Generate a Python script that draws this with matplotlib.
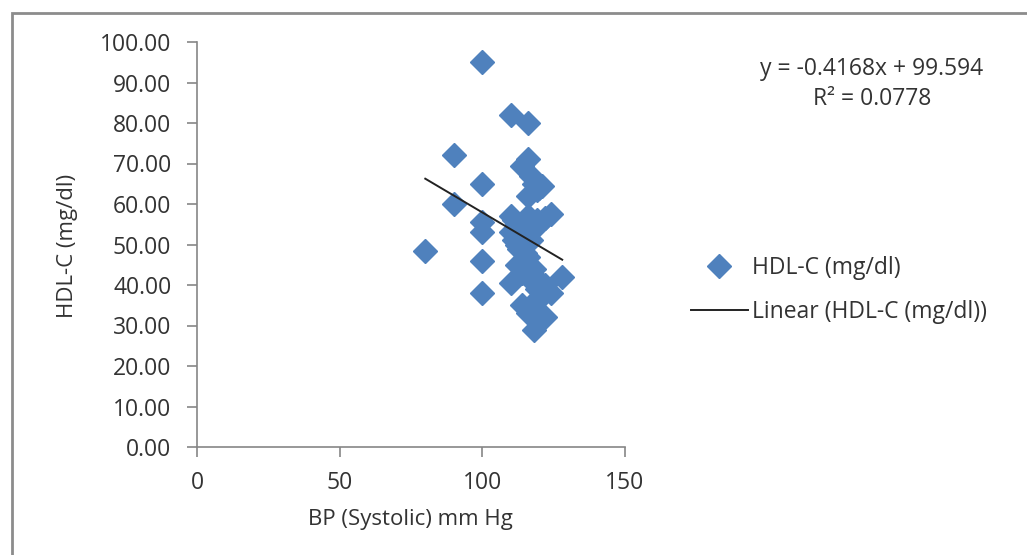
import matplotlib
matplotlib.use("Agg")
import matplotlib.pyplot as plt
from matplotlib.patches import Rectangle
import numpy as np

plt.rcParams['font.family'] = ['Open Sans', 'DejaVu Sans']

bp = [100, 110, 116, 90, 100,
      116, 114, 117, 118, 120, 116, 119, 121,
      90, 100, 100, 80, 100, 100,
      110, 111, 112, 113, 114, 115, 116, 117, 118, 119, 120, 122, 124,
      110, 111, 112, 113, 114, 115, 116, 117,
      110, 112, 114, 116, 118, 120, 119, 121, 122, 124, 128,
      114, 116, 118, 120, 122, 117, 119]
hdl = [95, 82, 80, 72, 65,
       71, 69.5, 67, 65, 64, 62, 63.5, 64.5,
       60, 55.5, 53, 48.4, 46, 38,
       57, 56, 55, 53.5, 52.5, 56, 57, 55.5, 54, 56, 55, 56.5, 57.5,
       53, 51, 50, 49, 50.5, 48, 47, 51,
       40.5, 45, 43, 42, 44, 41, 39, 37.5, 40, 38, 42,
       35, 33, 29, 37, 32, 34, 36]

slope, intercept = -0.4168, 99.594
fit_x = [80, 128]
eq_text = "y = -0.4168x + 99.594\nR² = 0.0778"

W, H = 1027, 555
fig = plt.figure(figsize=(W / 100, H / 100), dpi=100)
fig.patches.append(Rectangle((12 / W, -0.1), 1.2, 1 - 13 / H + 0.1,
                             transform=fig.transFigure, fill=False,
                             edgecolor='#8c8c8c', lw=2))
ax = fig.add_axes([197 / W, 1 - 447 / H, (625 - 197) / W, (447 - 42) / H])

blue = '#4F81BD'
ax.plot(bp, hdl, linestyle='none', marker='D', ms=12.5, color=blue,
        markeredgecolor=blue, label='HDL-C (mg/dl)')
fx = np.array(fit_x, dtype=float)
ax.plot(fx, slope * fx + intercept, color='#222222', lw=1.4,
        label='Linear (HDL-C (mg/dl))')

ax.set_xlim(0, 150)
ax.set_ylim(0, 100)
ax.set_xticks([0, 50, 100, 150])
ax.set_yticks(np.arange(0, 101, 10))
ax.set_yticklabels([f"{v:.2f}" for v in np.arange(0, 101, 10)])
for s in ['top', 'right']:
    ax.spines[s].set_visible(False)
for s in ['left', 'bottom']:
    ax.spines[s].set_color('#868686')
    ax.spines[s].set_linewidth(1.2)
ax.tick_params(axis='both', colors='#868686', labelcolor='#333333',
               labelsize=16.5, length=7.5, width=1.2, direction='out')
ax.tick_params(axis='x', pad=10)
ax.tick_params(axis='y', pad=11)

fig.text(68 / W, 1 - 246 / H, 'HDL-C (mg/dl)', rotation=90, ha='center',
         va='center', fontsize=16, color='#333333')
fig.text(410 / W, 1 - 520 / H, 'BP (Systolic) mm Hg', ha='center',
         va='center', fontsize=16, color='#333333')
fig.text(872 / W, 1 - 84 / H, eq_text, ha='center', va='center',
         fontsize=16.5, color='#333333', linespacing=1.3)

leg = ax.legend(loc='center left', bbox_to_anchor=(670 / W, 1 - 290 / H),
                bbox_transform=fig.transFigure, frameon=False,
                fontsize=16.5, labelcolor='#333333', handlelength=2.5,
                handletextpad=0.2, labelspacing=0.9)

fig.savefig('out.png', dpi=100)
